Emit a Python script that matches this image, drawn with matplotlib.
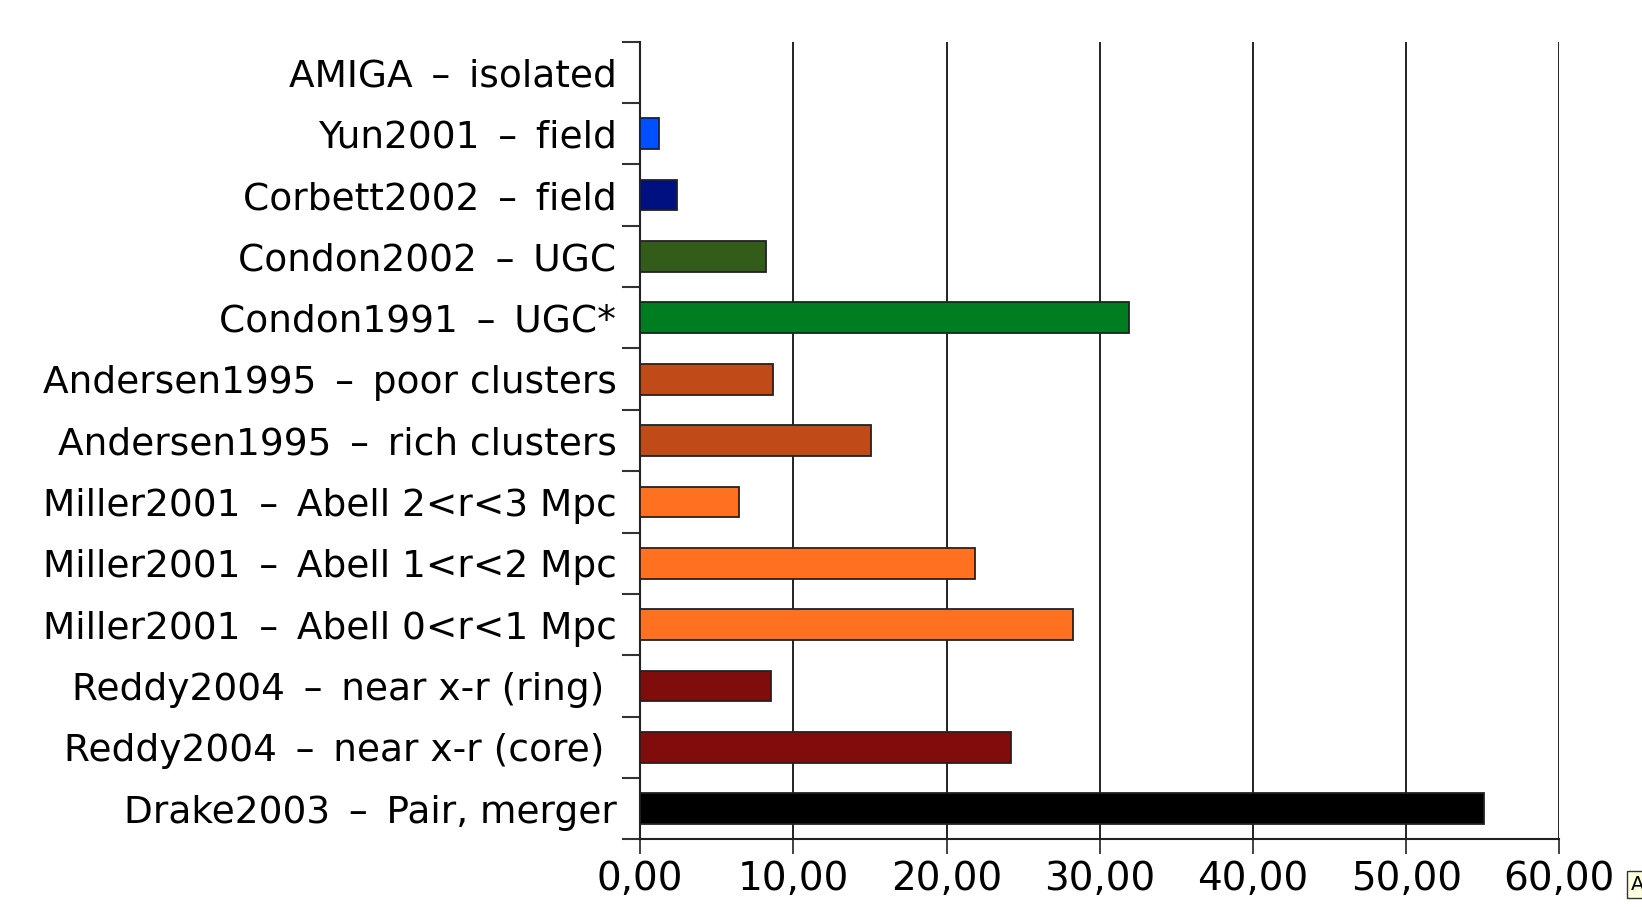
import numpy as np
import matplotlib.pyplot as plt
from matplotlib.ticker import FuncFormatter

# Data (top to bottom)
sp = '\u2002'
labels = [
    f'AMIGA{sp}–{sp}isolated',
    f'Yun2001{sp}–{sp}field',
    f'Corbett2002{sp}–{sp}field',
    f'Condon2002{sp}–{sp}UGC',
    f'Condon1991{sp}–{sp}UGC*',
    f'Andersen1995{sp}–{sp}poor clusters',
    f'Andersen1995{sp}–{sp}rich clusters',
    f'Miller2001{sp}–{sp}Abell 2<r<3 Mpc',
    f'Miller2001{sp}–{sp}Abell 1<r<2 Mpc',
    f'Miller2001{sp}–{sp}Abell 0<r<1 Mpc',
    f'Reddy2004{sp}–{sp}near x-r (ring) ',
    f'Reddy2004{sp}–{sp}near x-r (core) ',
    f'Drake2003{sp}–{sp}Pair, merger',
]
values = [0.0, 1.26, 2.39, 8.2, 31.9, 8.68, 15.04, 6.43, 21.87, 28.24, 8.55, 24.2, 55.1]
colors = ['#ffffff', '#0050ff', '#001080', '#335c1a', '#007d20', '#c04a18', '#c04a18',
          '#ff7020', '#ff7020', '#ff7020', '#800c0c', '#800c0c', '#000000']
xticks = [0, 10, 20, 30, 40, 50, 60]

plt.rcParams['font.family'] = ['DejaVu Sans']

fig = plt.figure(figsize=(16.42, 9.07), dpi=100)
ax = fig.add_axes([0.3898, 0.0746, 0.9497 - 0.3898, 0.954 - 0.0746])

y = np.arange(len(labels))
ax.barh(y, values, height=0.5, color=colors, edgecolor='#222222', linewidth=1.3, zorder=3)

ax.set_ylim(len(labels) - 0.5, -0.5)
ax.set_xlim(0, 60)

ax.set_yticks(y)
ax.set_yticklabels(labels, fontsize=27)
ax.set_yticks(np.arange(len(labels) + 1) - 0.5, minor=True)
ax.tick_params(axis='y', which='major', length=0, pad=17)
ax.tick_params(axis='y', which='minor', length=13, width=1.5, color='#333333', direction='out')

ax.set_xticks(xticks)
ax.xaxis.set_major_formatter(FuncFormatter(lambda v, p: f'{v:.2f}'.replace('.', ',')))
ax.tick_params(axis='x', which='major', length=11, width=1.3, color='#333333', labelsize=28, pad=4)

ax.grid(axis='x', color='#111111', linewidth=1.3, zorder=1)
for side in ['top', 'right']:
    ax.spines[side].set_visible(False)
for side in ['left', 'bottom']:
    ax.spines[side].set_linewidth(1.5)
    ax.spines[side].set_color('#222222')

# tooltip remnant in the corner
fig.text(0.9935, 0.025, 'A', fontsize=14, ha='left', va='center',
         bbox=dict(boxstyle='square,pad=0.2', facecolor='#ffffe0', edgecolor='#333333', linewidth=1))

fig.savefig('out.png', dpi=100)
